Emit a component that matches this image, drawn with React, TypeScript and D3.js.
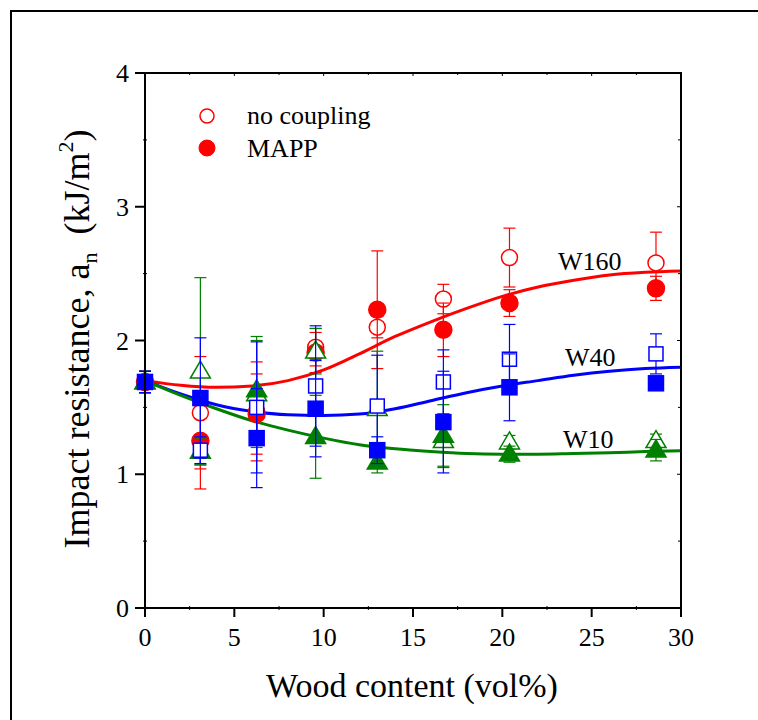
import React from "react";
import * as d3 from "d3";

const xValues = [0, 3.1, 6.25, 9.55, 13.0, 16.7, 20.4, 28.6];

const w160None = [1.69, 1.46, 1.47, 1.95, 2.10, 2.31, 2.62, 2.58];
const w160NoneErr = [0.08, 0.42, 0.37, 0.14, 0.08, 0.11, 0.22, 0.23];
const w160Mapp = [1.69, 1.25, 1.45, 1.91, 2.23, 2.08, 2.28, 2.39];
const w160MappErr = [0.08, 0.36, 0.30, 0.15, 0.44, 0.20, 0.10, 0.09];

const w10None = [1.69, 1.77, 1.60, 1.92, 1.49, 1.25, 1.24, 1.25];
const w10NoneErr = [0.08, 0.70, 0.40, 0.17, 0.43, 0.20, 0.05, 0.05];
const w10Mapp = [1.69, 1.17, 1.63, 1.28, 1.09, 1.29, 1.15, 1.18];
const w10MappErr = [0.08, 0.10, 0.40, 0.31, 0.08, 0.23, 0.06, 0.08];

const w40None = [1.69, 1.18, 1.50, 1.66, 1.51, 1.69, 1.86, 1.90];
const w40NoneErr = [0.08, 0.10, 0.49, 0.45, 0.38, 0.24, 0.26, 0.15];
const w40Mapp = [1.69, 1.57, 1.27, 1.49, 1.18, 1.39, 1.65, 1.68];
const w40MappErr = [0.08, 0.45, 0.37, 0.36, 0.10, 0.38, 0.25, 0.05];

const fitX = [0, 2, 4, 6, 8, 10, 12, 14, 16, 18, 20, 22, 24, 26, 28, 30];
const fitW160 = [1.70, 1.665, 1.65, 1.66, 1.70, 1.78, 1.90, 2.03, 2.14, 2.24, 2.33, 2.40, 2.45, 2.49, 2.51, 2.52];
const fitW40 = [1.70, 1.60, 1.52, 1.47, 1.445, 1.44, 1.45, 1.49, 1.55, 1.61, 1.66, 1.70, 1.74, 1.77, 1.79, 1.80];
const fitW10 = [1.70, 1.59, 1.49, 1.40, 1.33, 1.27, 1.22, 1.19, 1.17, 1.155, 1.15, 1.15, 1.155, 1.16, 1.17, 1.175];

const xTicks = [0, 5, 10, 15, 20, 25, 30];
const yTicks = [0, 1, 2, 3, 4];
const xMinor = [2.5, 7.5, 12.5, 17.5, 22.5, 27.5];
const yMinor = [0.5, 1.5, 2.5, 3.5];

const RED = "#ff0000";
const BLUE = "#0000ff";
const GREEN = "#008000";
const FONT = "'Liberation Serif', 'Times New Roman', serif";

type Shape = "circle" | "square" | "triangle";

export default function App() {
  const W = 758, H = 720;
  const L = 145, R = 681, T = 73, B = 608;
  const x = d3.scaleLinear().domain([0, 30]).range([L, R]);
  const y = d3.scaleLinear().domain([0, 4]).range([B, T]);

  const line = d3
    .line<[number, number]>()
    .x((d) => x(d[0]))
    .y((d) => y(d[1]))
    .curve(d3.curveMonotoneX);

  const fits = [
    { vals: fitW160, color: RED },
    { vals: fitW40, color: BLUE },
    { vals: fitW10, color: GREEN },
  ];

  const series: { vals: number[]; err: number[]; color: string; shape: Shape; filled: boolean }[] = [
    { vals: w160None, err: w160NoneErr, color: RED, shape: "circle", filled: false },
    { vals: w160Mapp, err: w160MappErr, color: RED, shape: "circle", filled: true },
    { vals: w10None, err: w10NoneErr, color: GREEN, shape: "triangle", filled: false },
    { vals: w10Mapp, err: w10MappErr, color: GREEN, shape: "triangle", filled: true },
    { vals: w40None, err: w40NoneErr, color: BLUE, shape: "square", filled: false },
    { vals: w40Mapp, err: w40MappErr, color: BLUE, shape: "square", filled: true },
  ];

  const marker = (shape: Shape, cx: number, cy: number, color: string, filled: boolean, key: string) => {
    const fill = filled ? color : "#ffffff";
    const sw = 1.5;
    if (shape === "circle") {
      return <circle key={key} cx={cx} cy={cy} r={filled ? 8.5 : 8} fill={fill} stroke={color} strokeWidth={sw} />;
    }
    if (shape === "square") {
      const s = filled ? 15 : 14;
      return <rect key={key} x={cx - s / 2} y={cy - s / 2} width={s} height={s} fill={fill} stroke={color} strokeWidth={sw} />;
    }
    const hw = 10, h = 17;
    const pts = `${cx},${cy - h * 0.6} ${cx + hw},${cy + h * 0.4} ${cx - hw},${cy + h * 0.4}`;
    return <polygon key={key} points={pts} fill={fill} stroke={color} strokeWidth={sw} />;
  };

  return (
    <svg width={W} height={H} style={{ display: "block", position: "absolute", left: 0, top: 0 }}>
      <rect x={0} y={0} width={W} height={H} fill="#ffffff" />
      <rect x={11} y={11} width={W + 20} height={H + 20} fill="none" stroke="#000" strokeWidth={2} />

      {/* fit curves */}
      {fits.map((f, i) => (
        <path
          key={"fit" + i}
          d={line(fitX.map((xx, j) => [xx, f.vals[j]] as [number, number])) || ""}
          fill="none"
          stroke={f.color}
          strokeWidth={3}
        />
      ))}

      {/* error bars and markers */}
      {series.map((s, si) => (
        <g key={"s" + si}>
          {s.vals.map((v, i) => {
            const cx = x(xValues[i]);
            const y1 = y(v + s.err[i]);
            const y2 = y(v - s.err[i]);
            return (
              <g key={"e" + i} stroke={s.color} strokeWidth={1.2}>
                <line x1={cx} x2={cx} y1={y1} y2={y2} />
                <line x1={cx - 6} x2={cx + 6} y1={y1} y2={y1} />
                <line x1={cx - 6} x2={cx + 6} y1={y2} y2={y2} />
              </g>
            );
          })}
          {s.vals.map((v, i) => marker(s.shape, x(xValues[i]), y(v), s.color, s.filled, "m" + si + "_" + i))}
        </g>
      ))}

      {/* axes frame */}
      <rect x={L} y={T} width={R - L} height={B - T} fill="none" stroke="#000" strokeWidth={2} />
      {xTicks.map((t) => (
        <g key={"xt" + t}>
          <line x1={x(t)} x2={x(t)} y1={B} y2={B + 9} stroke="#000" strokeWidth={2} />
          <line x1={x(t)} x2={x(t)} y1={T} y2={T + 3} stroke="#000" strokeWidth={1} />
          <text x={x(t)} y={646} textAnchor="middle" fontFamily={FONT} fontSize={26}>
            {t}
          </text>
        </g>
      ))}
      {xMinor.map((t) => (
        <g key={"xm" + t}>
          <line x1={x(t)} x2={x(t)} y1={B - 2} y2={B + 2} stroke="#000" strokeWidth={1} />
          <line x1={x(t)} x2={x(t)} y1={T - 1} y2={T + 2} stroke="#000" strokeWidth={1} />
        </g>
      ))}
      {yTicks.map((t) => (
        <g key={"yt" + t}>
          <line x1={L - 10} x2={L} y1={y(t)} y2={y(t)} stroke="#000" strokeWidth={2} />
          <line x1={R - 4} x2={R} y1={y(t)} y2={y(t)} stroke="#000" strokeWidth={1} />
          <text x={129} y={y(t) + 9} textAnchor="end" fontFamily={FONT} fontSize={26}>
            {t}
          </text>
        </g>
      ))}
      {yMinor.map((t) => (
        <g key={"ym" + t}>
          <line x1={L - 2} x2={L + 2} y1={y(t)} y2={y(t)} stroke="#000" strokeWidth={1} />
          <line x1={R - 3} x2={R} y1={y(t)} y2={y(t)} stroke="#000" strokeWidth={1} />
        </g>
      ))}

      {/* series labels */}
      <text x={558} y={270} fontFamily={FONT} fontSize={26}>W160</text>
      <text x={565} y={366} fontFamily={FONT} fontSize={26}>W40</text>
      <text x={563} y={448} fontFamily={FONT} fontSize={26}>W10</text>

      {/* legend */}
      <circle cx={207} cy={116} r={7} fill="#fff" stroke={RED} strokeWidth={1.5} />
      <text x={247} y={124} fontFamily={FONT} fontSize={26}>no coupling</text>
      <circle cx={207} cy={148} r={8} fill={RED} stroke={RED} strokeWidth={1} />
      <text x={247} y={157} fontFamily={FONT} fontSize={26}>MAPP</text>

      {/* axis titles */}
      <text x={(L + R) / 2 - 1} y={697} textAnchor="middle" fontFamily={FONT} fontSize={34}>
        Wood content (vol%)
      </text>
      <text transform="translate(89,339) rotate(-90)" textAnchor="middle" fontFamily={FONT} fontSize={36}>
        Impact resistance, a
        <tspan fontSize={22} dy={8}>n</tspan>
        <tspan dy={-8}>{"\u00a0\u00a0(kJ/m"}</tspan>
        <tspan fontSize={22} dy={-16}>2</tspan>
        <tspan dy={16}>)</tspan>
      </text>
    </svg>
  );
}
